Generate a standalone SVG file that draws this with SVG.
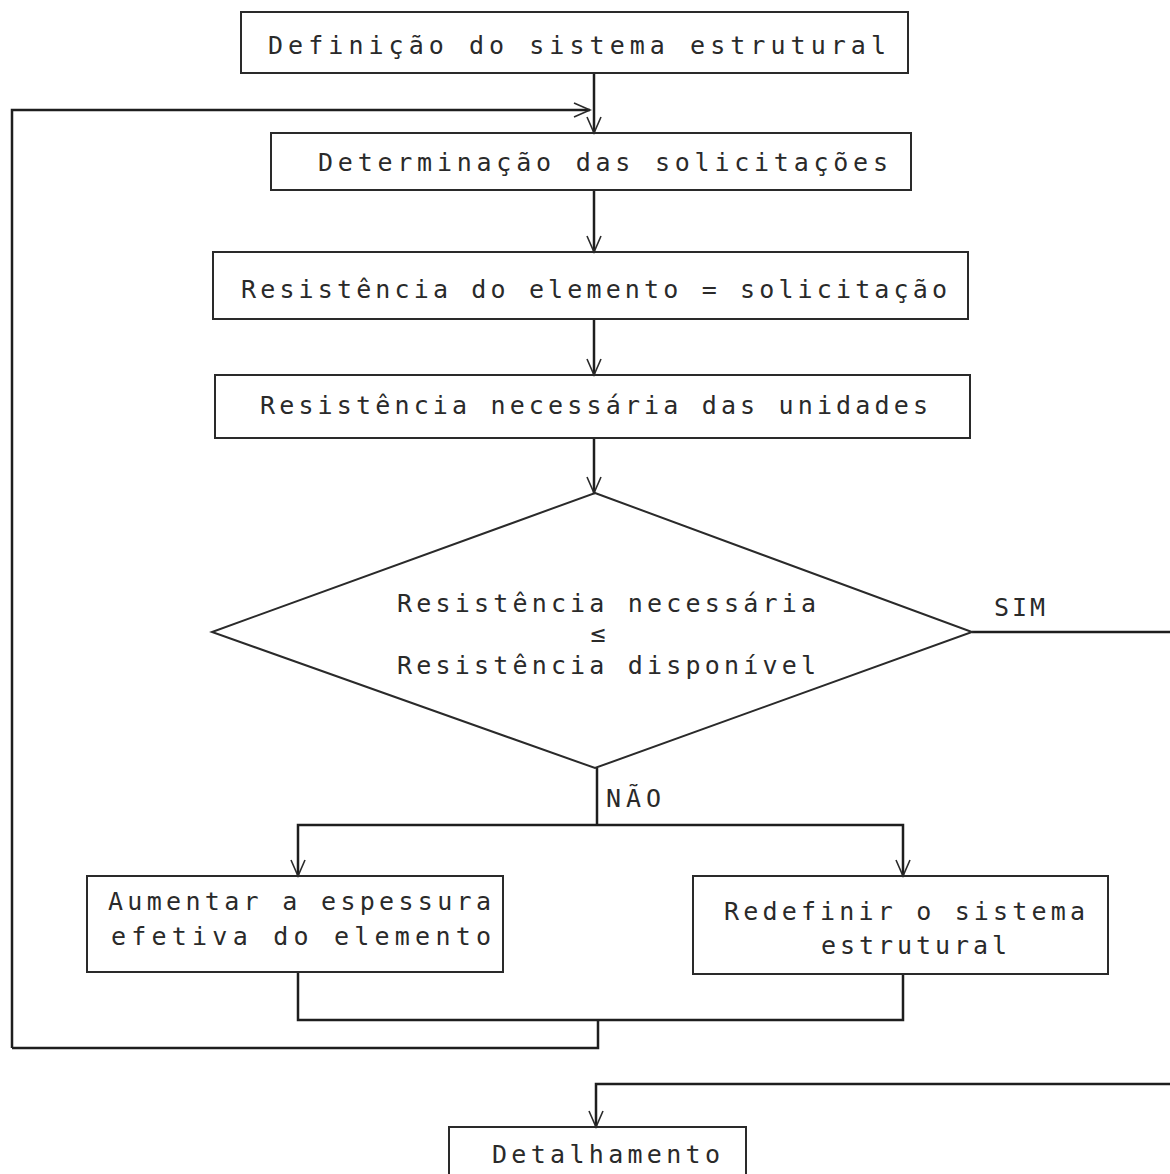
<svg xmlns="http://www.w3.org/2000/svg" width="1170" height="1174" viewBox="0 0 1170 1174">
<style>
.box{fill:none;stroke:#2a2a2a;stroke-width:2}
.ln{fill:none;stroke:#1e1e1e;stroke-width:2.5}
.t{font-family:"DejaVu Sans Mono","Liberation Mono",monospace;font-size:25px;fill:#2a2a2a}
</style>
<defs>
<marker id="ah" viewBox="0 0 20 20" refX="18" refY="10" markerWidth="20" markerHeight="20" markerUnits="userSpaceOnUse" orient="auto">
<path d="M2 3 L18 10 L2 17" fill="none" stroke="#2a2a2a" stroke-width="1.6"/>
</marker>
</defs>
<rect width="1170" height="1174" fill="#ffffff"/>
<g id="connectors">
<path class="ln" d="M594 73 V133" marker-end="url(#ah)"/>
<path class="ln" d="M12 1048 V110 H590" marker-end="url(#ah)"/>
<path class="ln" d="M594 190 V252" marker-end="url(#ah)"/>
<path class="ln" d="M594 319 V375" marker-end="url(#ah)"/>
<path class="ln" d="M594 438 V493" marker-end="url(#ah)"/>
<path class="ln" d="M972 632 H1170"/>
<path class="ln" d="M597 768 V825"/>
<path class="ln" d="M597 825 H298 V876" marker-end="url(#ah)"/>
<path class="ln" d="M597 825 H903 V876" marker-end="url(#ah)"/>
<path class="ln" d="M298 972 V1020 H903 V974"/>
<path class="ln" d="M598 1020 V1048 H12"/>
<path class="ln" d="M1170 1084 H596 V1127" marker-end="url(#ah)"/>
</g>
<g id="n1">
<rect class="box" x="241" y="12" width="667" height="61"/>
<text class="t" x="268" y="54" textLength="618" lengthAdjust="spacing">Definição do sistema estrutural</text>
</g>
<g id="n2">
<rect class="box" x="271" y="133" width="640" height="57"/>
<text class="t" x="318" y="171" textLength="570" lengthAdjust="spacing">Determinação das solicitações</text>
</g>
<g id="n3">
<rect class="box" x="213" y="252" width="755" height="67"/>
<text class="t" x="241" y="298" textLength="706" lengthAdjust="spacing">Resistência do elemento = solicitação</text>
</g>
<g id="n4">
<rect class="box" x="215" y="375" width="755" height="63"/>
<text class="t" x="260" y="414" textLength="668" lengthAdjust="spacing">Resistência necessária das unidades</text>
</g>
<g id="n5">
<polygon class="box" points="595,493 972,632 595,768 212,632"/>
<text class="t" x="397" y="612" textLength="419" lengthAdjust="spacing">Resistência necessária</text>
<text class="t" x="598" y="642" text-anchor="middle" font-size="20">≤</text>
<text class="t" x="397" y="674" textLength="419" lengthAdjust="spacing">Resistência disponível</text>
</g>
<g id="labels">
<text class="t" x="994" y="616" textLength="51" lengthAdjust="spacing">SIM</text>
<text class="t" x="606" y="807" textLength="55" lengthAdjust="spacing">NÃO</text>
</g>
<g id="n6">
<rect class="box" x="87" y="876" width="416" height="96"/>
<text class="t" x="108" y="910" textLength="383" lengthAdjust="spacing">Aumentar a espessura</text>
<text class="t" x="111" y="945" textLength="380" lengthAdjust="spacing">efetiva do elemento</text>
</g>
<g id="n7">
<rect class="box" x="693" y="876" width="415" height="98"/>
<text class="t" x="724" y="920" textLength="361" lengthAdjust="spacing">Redefinir o sistema</text>
<text class="t" x="821" y="954" textLength="186" lengthAdjust="spacing">estrutural</text>
</g>
<g id="n8">
<rect class="box" x="449" y="1127" width="297" height="60"/>
<text class="t" x="492" y="1163" textLength="228" lengthAdjust="spacing">Detalhamento</text>
</g>
</svg>
